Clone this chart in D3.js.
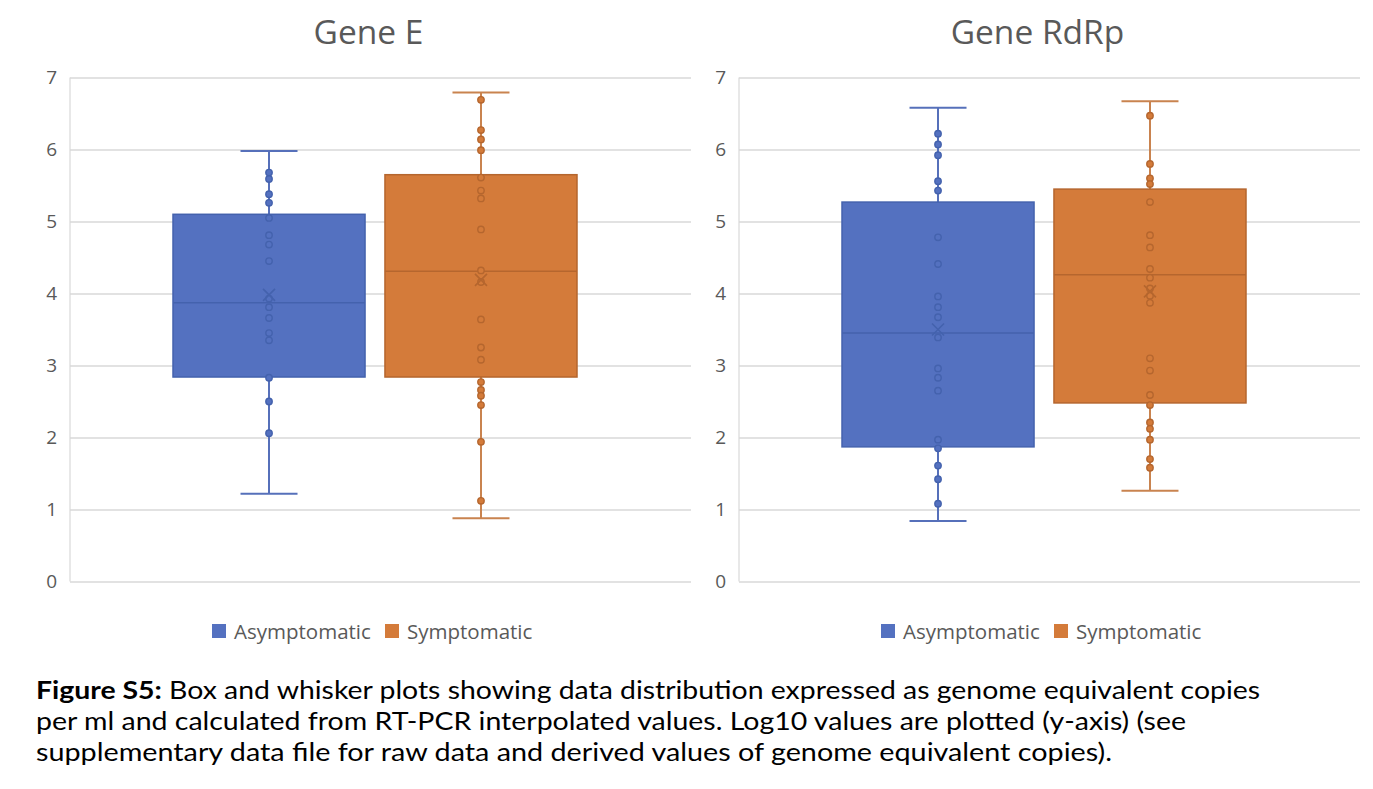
<!DOCTYPE html>
<html>
<head>
<meta charset="utf-8">
<script src="https://cdn.jsdelivr.net/npm/d3@7"></script>
<style>
  html, body { margin: 0; padding: 0; background: #ffffff; }
  svg { display: block; }
</style>
</head>
<body>
<svg id="chart" width="1373" height="789"></svg>
<script>
// ---------------- data ----------------
const chartTitles = ["Gene E", "Gene RdRp"];
const seriesNames = ["Asymptomatic", "Symptomatic"];
const yTickValues = [0, 1, 2, 3, 4, 5, 6, 7];

// box statistics: [min, q1, median, q3, max, mean]
const geneE_asym_stats = [1.22, 2.84, 3.87, 5.10, 5.98, 3.98];
const geneE_sym_stats  = [0.88, 2.84, 4.31, 5.65, 6.79, 4.19];
const rdrp_asym_stats  = [0.84, 1.87, 3.45, 5.27, 6.58, 3.50];
const rdrp_sym_stats   = [1.26, 2.48, 4.26, 5.45, 6.67, 4.03];

// individual points (log10 copies)
const geneE_asym_points = [5.68, 5.59, 5.38, 5.26, 5.05, 4.81, 4.68, 4.45, 3.93, 3.81, 3.66, 3.45, 3.35, 2.83, 2.50, 2.06];
const geneE_sym_points  = [6.69, 6.27, 6.14, 5.99, 5.61, 5.43, 5.32, 4.89, 4.32, 4.16, 3.64, 3.25, 3.08, 2.77, 2.66, 2.58, 2.45, 1.94, 1.12];
const rdrp_asym_points  = [6.22, 6.07, 5.92, 5.56, 5.43, 4.78, 4.41, 3.96, 3.81, 3.67, 3.39, 2.96, 2.83, 2.65, 1.97, 1.85, 1.61, 1.42, 1.08];
const rdrp_sym_points   = [6.47, 5.80, 5.60, 5.52, 5.27, 4.81, 4.64, 4.34, 4.22, 4.07, 3.97, 3.87, 3.10, 2.93, 2.59, 2.45, 2.21, 2.12, 1.97, 1.70, 1.58];

const captionBold = "Figure S5:";
const captionLines = [
  " Box and whisker plots showing data distribution expressed as genome equivalent copies",
  "per ml and calculated from RT-PCR interpolated values. Log10 values are plotted (y-axis) (see",
  "supplementary data file for raw data and derived values of genome equivalent copies)."
];

// ---------------- styling ----------------
const fillColors   = { Asymptomatic: "#5471C0", Symptomatic: "#D47B3A" };
const strokeColors = { Asymptomatic: "#4462AD", Symptomatic: "#B5662E" };
const whiskerColors= { Asymptomatic: "#5670BA", Symptomatic: "#C9834F" };
const textColor = "#595959";
const gridColor = "#D9D9D9";
const font = "'Open Sans', 'Noto Sans', sans-serif";

const panels = [
  { title: chartTitles[0], x0: 70,  x1: 691,
    stats: { Asymptomatic: geneE_asym_stats, Symptomatic: geneE_sym_stats },
    points:{ Asymptomatic: geneE_asym_points, Symptomatic: geneE_sym_points } },
  { title: chartTitles[1], x0: 739, x1: 1360,
    stats: { Asymptomatic: rdrp_asym_stats, Symptomatic: rdrp_sym_stats },
    points:{ Asymptomatic: rdrp_asym_points, Symptomatic: rdrp_sym_points } }
];

const svg = d3.select("#chart");
const y = d3.scaleLinear().domain([0, 7]).range([581.5, 77.5]);

panels.forEach(p => {
  const g = svg.append("g");
  const x = d3.scaleBand().domain(seriesNames)
    .range([p.x0 + 103, p.x0 + 507]).paddingInner(0.094).paddingOuter(0);

  // title
  g.append("text")
    .attr("x", (p.x0 + p.x1) / 2 - 12).attr("y", 44)
    .attr("text-anchor", "middle")
    .attr("font-family", font).attr("font-size", 33.5)
    .attr("fill", textColor)
    .text(p.title);

  // gridlines via axis
  const yAxis = d3.axisLeft(y).tickValues(yTickValues)
    .tickSize(-(p.x1 - p.x0)).tickPadding(12).tickFormat(d3.format("d"));
  const ax = g.append("g").attr("transform", `translate(${p.x0},0)`).call(yAxis);
  ax.select(".domain").attr("stroke", gridColor).attr("stroke-width", 1.2)
    .attr("d", `M0,${y(7)}V${y(0)}`);
  ax.selectAll(".tick line").attr("stroke", gridColor).attr("stroke-width", 1.3);
  ax.selectAll(".tick text")
    .attr("font-family", font).attr("font-size", 19)
    .attr("fill", textColor).attr("x", -13);

  seriesNames.forEach(s => {
    const [mn, q1, med, q3, mx, mean] = p.stats[s];
    const cx = x(s) + x.bandwidth() / 2;
    const capW = 57;
    const sg = g.append("g");
    // whiskers
    sg.append("line").attr("x1", cx).attr("x2", cx).attr("y1", y(q3)).attr("y2", y(mx))
      .attr("stroke", whiskerColors[s]).attr("stroke-width", 2);
    sg.append("line").attr("x1", cx).attr("x2", cx).attr("y1", y(q1)).attr("y2", y(mn))
      .attr("stroke", whiskerColors[s]).attr("stroke-width", 2);
    sg.append("line").attr("x1", cx - capW / 2).attr("x2", cx + capW / 2)
      .attr("y1", y(mx)).attr("y2", y(mx))
      .attr("stroke", whiskerColors[s]).attr("stroke-width", 2);
    sg.append("line").attr("x1", cx - capW / 2).attr("x2", cx + capW / 2)
      .attr("y1", y(mn)).attr("y2", y(mn))
      .attr("stroke", whiskerColors[s]).attr("stroke-width", 2);
    // box
    sg.append("rect")
      .attr("x", x(s)).attr("width", x.bandwidth())
      .attr("y", y(q3)).attr("height", y(q1) - y(q3))
      .attr("fill", fillColors[s]).attr("stroke", strokeColors[s]).attr("stroke-width", 1.5);
    // median
    sg.append("line").attr("x1", x(s)).attr("x2", x(s) + x.bandwidth())
      .attr("y1", y(med)).attr("y2", y(med))
      .attr("stroke", strokeColors[s]).attr("stroke-width", 1.5);
    // points
    sg.selectAll("circle.pt").data(p.points[s]).join("circle")
      .attr("class", "pt")
      .attr("cx", cx).attr("cy", d => y(d)).attr("r", 3.2)
      .attr("fill", fillColors[s]).attr("stroke", strokeColors[s]).attr("stroke-width", 1.4);
    // mean X
    const my = y(mean), m = 6;
    sg.append("path")
      .attr("d", `M${cx - m},${my - m}L${cx + m},${my + m}M${cx + m},${my - m}L${cx - m},${my + m}`)
      .attr("stroke", strokeColors[s]).attr("stroke-width", 1.6).attr("fill", "none");
  });

  // legend
  const lg = g.append("g");
  const legendStart = p.x0 + 142;
  const offsets = [0, 173];
  seriesNames.forEach((s, i) => {
    lg.append("rect").attr("x", legendStart + offsets[i]).attr("y", 624)
      .attr("width", 14).attr("height", 14).attr("fill", fillColors[s]);
    lg.append("text").attr("x", legendStart + offsets[i] + 22).attr("y", 638.5)
      .attr("font-family", font).attr("font-size", 20.5).attr("fill", textColor)
      .text(s);
  });
});

// caption
const capFont = "Lato, 'Open Sans', sans-serif";
const capTargets = [1224, 1150, 1076];
const capBaselines = [699, 730, 761];
captionLines.forEach((line, i) => {
  const t = svg.append("text")
    .attr("x", 36).attr("y", capBaselines[i])
    .attr("font-family", capFont).attr("font-size", 25).attr("fill", "#000");
  if (i === 0) {
    t.append("tspan").attr("font-weight", "bold").text(captionBold);
  }
  t.append("tspan").text(line);
  t.attr("textLength", capTargets[i]).attr("lengthAdjust", "spacingAndGlyphs");
});
</script>
</body>
</html>
